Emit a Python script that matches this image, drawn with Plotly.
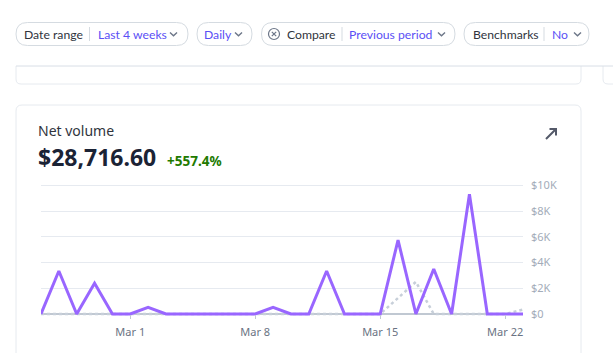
import plotly.graph_objects as go
import pandas as pd

W, H = 613, 353

# ---------------- data ----------------
dates = pd.date_range("2023-02-24", "2023-03-23", freq="D")
current = [0, 3350, 0, 2400, 0, 0, 520, 0, 0, 0, 0, 0, 0, 520,
           0, 0, 3350, 0, 0, 0, 5750, 0, 3500, 0, 9330, 0, 0, 0]
previous = [0, 0, 0, 0, 0, 0, 0, 0, 0, 0, 0, 0, 0, 0,
            0, 0, 0, 0, 0, 0, 1250, 2500, 0, 0, 0, 0, 0, 350]
x_tick_vals = ["2023-03-01", "2023-03-08", "2023-03-15", "2023-03-22"]
x_tick_text = ["Mar 1", "Mar 8", "Mar 15", "Mar 22"]
y_tick_vals = [0, 2000, 4000, 6000, 8000, 10000]
y_tick_text = ["$0", "$2K", "$4K", "$6K", "$8K", "$10K"]

FONT = "Noto Sans"
PILLFONT = "Lato"
DARK = "#30343d"
PURPLE = "#5b50f5"
ICON = "#6c7688"


def P(x):
    return x / W


def Q(y):
    return 1 - y / H


def rrect(x0, y0, x1, y1, r):
    return (f"M{P(x0+r)},{Q(y0)} L{P(x1-r)},{Q(y0)} Q{P(x1)},{Q(y0)} {P(x1)},{Q(y0+r)} "
            f"L{P(x1)},{Q(y1-r)} Q{P(x1)},{Q(y1)} {P(x1-r)},{Q(y1)} "
            f"L{P(x0+r)},{Q(y1)} Q{P(x0)},{Q(y1)} {P(x0)},{Q(y1-r)} "
            f"L{P(x0)},{Q(y0+r)} Q{P(x0)},{Q(y0)} {P(x0+r)},{Q(y0)} Z")


def pth(points):
    s = ""
    for i, (x, y) in enumerate(points):
        s += ("M" if i == 0 else " L") + f"{P(x)},{Q(y)}"
    return s


fig = go.Figure()
fig.add_trace(go.Scatter(x=dates, y=previous, mode="lines",
                         line=dict(color="#c7cfd9", width=2.5, dash="dot"),
                         hoverinfo="skip", showlegend=False))
fig.add_trace(go.Scatter(x=dates, y=current, mode="lines",
                         line=dict(color="#9966ff", width=3),
                         hoverinfo="skip", showlegend=False))

# plot geometry (pixels)
x_left, x_right = 41, 523
y0_px, y10k_px = 314, 185.5
ppu = (y0_px - y10k_px) / 10000
plot_top, plot_bot = 180, 318
ymin = -(plot_bot - y0_px) / ppu
ymax = 10000 + (y10k_px - plot_top) / ppu

shapes = []
annotations = []

# cards
shapes.append(dict(type="path", xref="paper", yref="paper", layer="below",
                   path=rrect(16, 105, 581, 420, 6),
                   line=dict(color="#e6eaef", width=1), fillcolor="white"))
shapes.append(dict(type="path", xref="paper", yref="paper", layer="below",
                   path=f"M{P(16)},{Q(66)} L{P(16)},{Q(79)} Q{P(16)},{Q(84)} {P(21)},{Q(84)} "
                        f"L{P(576)},{Q(84)} Q{P(581)},{Q(84)} {P(581)},{Q(79)} L{P(581)},{Q(66)}",
                   line=dict(color="#e6eaef", width=1)))
shapes.append(dict(type="path", xref="paper", yref="paper", layer="below",
                   path=f"M{P(603)},{Q(66)} L{P(603)},{Q(79)} Q{P(603)},{Q(84)} {P(608)},{Q(84)} L{P(614)},{Q(84)}",
                   line=dict(color="#e6eaef", width=1)))
# header separator
shapes.append(dict(type="line", xref="paper", yref="paper", layer="below",
                   x0=P(16), x1=P(613), y0=Q(66), y1=Q(66),
                   line=dict(color="#d8dee6", width=1)))

# pills
pills = [(16, 188), (197, 252), (261.5, 455), (464, 589)]
for a, b in pills:
    shapes.append(dict(type="path", xref="paper", yref="paper",
                       path=rrect(a, 22.5, b, 45.5, 11.5),
                       line=dict(color="#d5dbe1", width=1), fillcolor="white"))
for cx in [173.5, 238.5, 441.5, 577.5]:
    shapes.append(dict(type="path", xref="paper", yref="paper",
                       path=pth([(cx - 3.5, 32.5), (cx, 35.8), (cx + 3.5, 32.5)]),
                       line=dict(color=ICON, width=1.4)))
for dx in [89.5, 342, 544]:
    shapes.append(dict(type="line", xref="paper", yref="paper",
                       x0=P(dx), x1=P(dx), y0=Q(27), y1=Q(41),
                       line=dict(color="#d5dbe1", width=1)))
# circle-x icon
shapes.append(dict(type="circle", xref="paper", yref="paper",
                   x0=P(268.5), x1=P(279.5), y0=Q(28.5), y1=Q(39.5),
                   line=dict(color=ICON, width=1.2)))
shapes.append(dict(type="path", xref="paper", yref="paper",
                   path=pth([(271.8, 31.8), (276.2, 36.2)]) + " " + pth([(276.2, 31.8), (271.8, 36.2)]),
                   line=dict(color=ICON, width=1.2)))

pill_texts = [("Date range", 22, DARK), ("Last 4 weeks", 95.5, PURPLE), ("Daily", 202, PURPLE),
              ("Compare", 285, DARK), ("Previous period", 347, PURPLE),
              ("Benchmarks", 470.5, DARK), ("No", 549.5, PURPLE)]
for t, x, c in pill_texts:
    annotations.append(dict(text=t, x=P(x), y=Q(34.5), xref="paper", yref="paper",
                            xanchor="left", yanchor="middle", showarrow=False,
                            font=dict(family=PILLFONT, size=12.2, color=c)))

# card header texts
annotations.append(dict(text="Net volume", x=P(36), y=Q(130), xref="paper", yref="paper",
                        xanchor="left", yanchor="middle", showarrow=False,
                        font=dict(family=FONT, size=14, color=DARK)))
annotations.append(dict(text="<b>$28,716.60</b>", x=P(36), y=Q(157), xref="paper", yref="paper",
                        xanchor="left", yanchor="middle", showarrow=False,
                        font=dict(family=FONT, size=23, color="#1b2335")))
annotations.append(dict(text="<b>+557.4%</b>", x=P(165), y=Q(160.5), xref="paper", yref="paper",
                        xanchor="left", yanchor="middle", showarrow=False,
                        font=dict(family=FONT, size=13.5, color="#217a00")))
# arrow icon
shapes.append(dict(type="path", xref="paper", yref="paper",
                   path=pth([(546, 139), (556, 129)]) + " " + pth([(549.5, 129), (556, 129), (556, 135.5)]),
                   line=dict(color="#545969", width=2)))

fig.update_layout(
    width=W, height=H,
    margin=dict(l=0, r=0, t=0, b=0, autoexpand=False),
    paper_bgcolor="white", plot_bgcolor="rgba(0,0,0,0)",
    shapes=shapes, annotations=annotations,
    xaxis=dict(domain=[P(x_left), P(x_right)], type="date",
               range=[dates[0], dates[-1]],
               anchor="free", position=Q(y0_px), automargin=False,
               tickvals=x_tick_vals, ticktext=x_tick_text,
               ticks="outside", ticklen=4, tickcolor="#c0c8d2", tickwidth=1,
               ticklabelstandoff=4,
               showgrid=False, showline=False, zeroline=False,
               tickfont=dict(family=FONT, size=11, color="#6a7383")),
    yaxis=dict(domain=[Q(plot_bot), Q(plot_top)], range=[ymin, ymax],
               side="right", tickvals=y_tick_vals, ticktext=y_tick_text,
               automargin=False,
               showgrid=True, gridcolor="#e6eaf0", gridwidth=1,
               zeroline=True, zerolinecolor="#c0c8d2", zerolinewidth=1.5,
               showline=False, ticks="", ticklabelstandoff=7,
               tickfont=dict(family=FONT, size=11, color="#a3acb9")),
)

fig.write_html("out.html")
